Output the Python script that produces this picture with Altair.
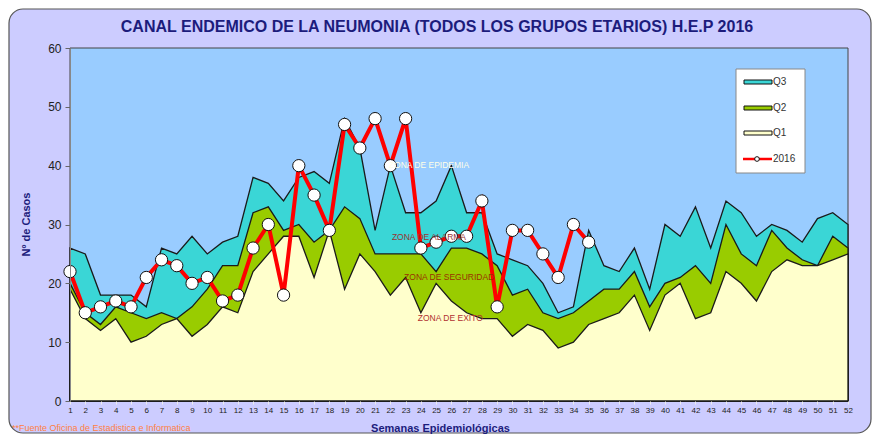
import altair as alt
import pandas as pd

# ---------------- data ----------------
weeks = list(range(1, 53))
q3 = [26, 25, 18, 18, 18, 16, 26, 25, 28, 25, 27, 28, 38, 37, 34, 38, 39, 37, 48, 43,
      29, 40, 32, 32, 34, 40, 32, 32, 25, 24, 23, 20, 15, 16, 29, 23, 22, 26, 19, 30,
      28, 33, 26, 34, 32, 28, 30, 29, 27, 31, 32, 30]
q2 = [20, 15, 13, 16, 15, 14, 15, 14, 16, 19, 23, 23, 32, 33, 29, 30, 27, 29, 33, 31,
      25, 25, 25, 25, 22, 26, 26, 25, 23, 18, 19, 15, 14, 15, 17, 19, 19, 22, 16, 20,
      21, 23, 20, 30, 25, 23, 29, 26, 24, 23, 28, 26]
q1 = [19, 14, 12, 14, 10, 11, 13, 14, 11, 13, 16, 15, 22, 25, 28, 28, 21, 29, 19, 25,
      22, 18, 21, 15, 20, 17, 15, 14, 14, 11, 13, 12, 9, 10, 13, 14, 15, 18, 12, 18,
      20, 14, 15, 22, 20, 17, 22, 24, 23, 23, 24, 25]
cases_2016 = [22, 15, 16, 17, 16, 21, 24, 23, 20, 21, 17, 18, 26, 30, 18, 40, 35, 29,
              47, 43, 48, 40, 48, 26, 27, 28, 28, 34, 16, 29, 29, 25, 21, 30, 27]
y_ticks = [0, 10, 20, 30, 40, 50, 60]

zone_labels = ["ZONA DE EPIDEMIA", "ZONA DE ALARMA", "ZONA DE SEGURIDAD", "ZONA DE EXITO"]
zone_weeks = [21.9, 22.1, 22.9, 23.8]
zone_values = [40.1, 27.9, 21.1, 14.1]
zone_colors = ["#FFFFE8", "#993333", "#993300", "#B03030"]

series_names = ["Q3", "Q2", "Q1"]
series_colors = ["#3AD6D6", "#99CC00", "#FFFFCC"]

title_text = "CANAL ENDEMICO DE LA NEUMONIA (TODOS LOS GRUPOS ETARIOS)  H.E.P 2016"
footnote_text = "**Fuente Oficina de Estadistica e Informatica"

# ---------------- tables ----------------
df = pd.DataFrame({"week": weeks, "Q3": q3, "Q2": q2, "Q1": q1})
df16 = pd.DataFrame({"week": weeks[:len(cases_2016)], "cases": cases_2016})
dzones = pd.DataFrame({"week": zone_weeks, "value": zone_values,
                       "label": zone_labels, "color": zone_colors})
one = alt.Data(values=[{"a": 1}])

W, H = 778, 353
FONT = "Liberation Sans"
NAVY = "#1C1C7C"

x_scale = alt.Scale(domain=[1, 52], nice=False, zero=False)
y_scale = alt.Scale(domain=[0, 60], nice=False)

x_axis = alt.Axis(values=weeks, title="Semanas Epidemiológicas", labelFontSize=8,
                  labelColor="#222222", labelOverlap=False, labelFlush=False,
                  tickSize=3, tickColor="#EEEEEE", domain=False, grid=False,
                  labelPadding=2, titleFontSize=11, titleFontWeight="bold",
                  titleColor=NAVY, titleX=370, titleY=27, titleAlign="center",
                  titleBaseline="middle", zindex=2)
y_axis = alt.Axis(values=y_ticks, title="Nº de Casos", labelFontSize=12,
                  labelColor="#222222", tickSize=5, tickColor="#666666",
                  domainColor="#888888", grid=False, labelPadding=4,
                  titleFontSize=11, titleFontWeight="bold", titleColor=NAVY,
                  titleX=-44, titleY=176, titleAngle=270, titleAlign="center",
                  titleBaseline="middle", zindex=2)


def X(field):
    return alt.X(field, type="quantitative", scale=x_scale, axis=x_axis)


def Y(field):
    return alt.Y(field, type="quantitative", scale=y_scale, axis=y_axis)


# outer rounded panel
panel = alt.Chart(one).mark_rect(fill="#CCCCFF", stroke="#555555", strokeWidth=1.2,
                                 cornerRadius=14).encode(
    x=alt.value(-61), x2=alt.value(W + 23), y=alt.value(-39), y2=alt.value(H + 32))

title = alt.Chart(one).mark_text(text=title_text, align="center", baseline="middle",
                                 fontSize=16, fontWeight="bold", color=NAVY,
                                 font=FONT).encode(
    x=alt.value(367), y=alt.value(-21))

# plot background (epidemic zone)
plotbg = alt.Chart(one).mark_rect(fill="#99CCFF", stroke="#444444", strokeWidth=1).encode(
    x=alt.X(datum=1, type="quantitative", scale=x_scale, axis=x_axis),
    x2=alt.X2(datum=52),
    y=alt.Y(datum=60, type="quantitative", scale=y_scale, axis=y_axis),
    y2=alt.Y2(datum=0),
)

areas = [
    alt.Chart(df).mark_area(fill=c, stroke="#1A1A1A", strokeWidth=1.3, fillOpacity=1,
                            opacity=1).encode(x=X("week"), y=Y(s))
    for s, c in zip(series_names, series_colors)
]

line16 = alt.Chart(df16).mark_line(color="#FF0000", strokeWidth=4).encode(
    x=X("week"), y=Y("cases"))
pts16 = alt.Chart(df16).mark_circle(color="#FFFFFF", stroke="#111111", strokeWidth=1,
                                    size=150, opacity=1).encode(x=X("week"), y=Y("cases"))

zones = alt.Chart(dzones).mark_text(align="left", baseline="middle", fontSize=8.5,
                                    font=FONT).encode(
    x=X("week"), y=Y("value"), text="label:N",
    color=alt.Color("color:N", scale=None))

footnote = alt.Chart(one).mark_text(text=footnote_text,
                                    align="left", baseline="middle", fontSize=9,
                                    font=FONT, color="#FF7F3F").encode(
    x=alt.value(-58), y=alt.value(380))

# legend (custom box)
LX0, LX1, LY0, LY1 = 666, 735, 21, 125
legend_box = alt.Chart(one).mark_rect(fill="#FFFFFF", stroke="#888888",
                                      strokeWidth=1).encode(
    x=alt.value(LX0), x2=alt.value(LX1), y=alt.value(LY0), y2=alt.value(LY1))
legend_layers = [legend_box]
row_y = [34, 60, 85, 111]
for name, color, ry in zip(series_names, series_colors, row_y[:3]):
    legend_layers.append(alt.Chart(one).mark_rect(fill=color, stroke="#111111",
                                                  strokeWidth=1).encode(
        x=alt.value(674), x2=alt.value(702), y=alt.value(ry - 2), y2=alt.value(ry + 2)))
    legend_layers.append(alt.Chart(one).mark_text(text=name, align="left",
                                                  baseline="middle", fontSize=10,
                                                  font=FONT, color="#333333").encode(
        x=alt.value(703), y=alt.value(ry)))
legend_layers.append(alt.Chart(one).mark_rule(color="#FF0000", strokeWidth=2.5).encode(
    x=alt.value(673), x2=alt.value(702), y=alt.value(row_y[3])))
legend_layers.append(alt.Chart(one).mark_point(shape="circle", filled=True,
                                               fill="#FFFFFF", stroke="#111111",
                                               strokeWidth=1, size=22, opacity=1).encode(
    x=alt.value(687), y=alt.value(row_y[3])))
legend_layers.append(alt.Chart(one).mark_text(text="2016", align="left",
                                              baseline="middle", fontSize=10,
                                              font=FONT, color="#333333").encode(
    x=alt.value(703), y=alt.value(row_y[3])))

chart = alt.layer(
    panel, title, plotbg, *areas, line16, pts16, zones, footnote, *legend_layers
).properties(
    width=W, height=H,
    autosize=alt.AutoSizeParams(type="none"),
    padding={"left": 62, "top": 40, "right": 24, "bottom": 33},
    background="#FFFFFF",
).configure_view(stroke=None).configure_axis(labelFont=FONT, titleFont=FONT)

chart.save("out.html", embed_options={"renderer": "svg", "actions": False})
